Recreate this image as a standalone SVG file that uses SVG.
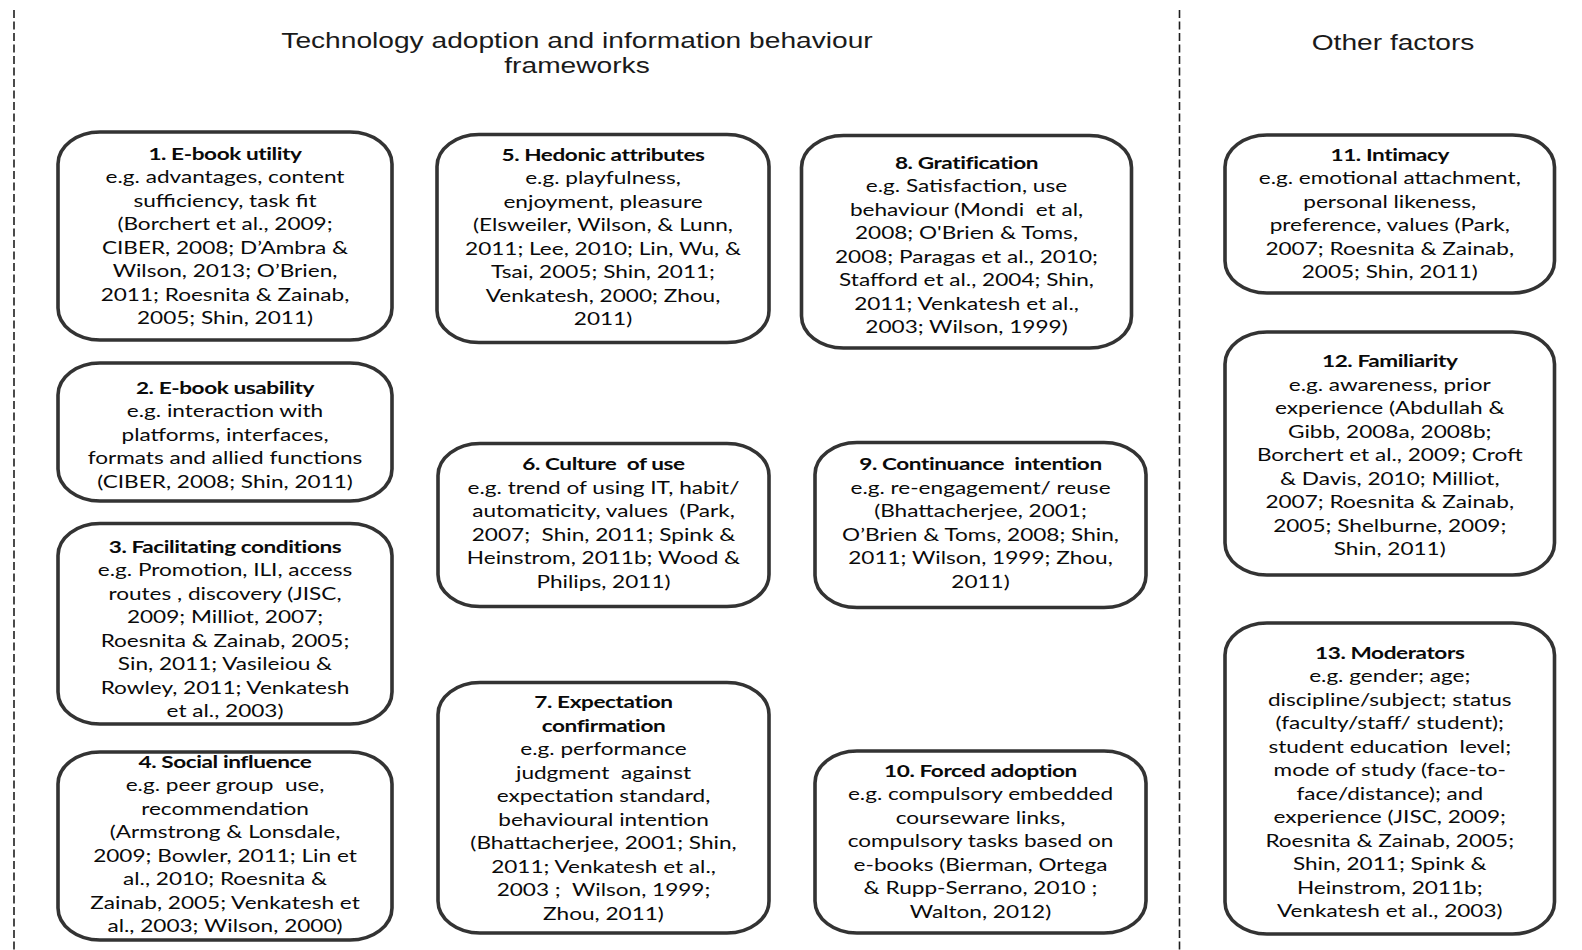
<svg xmlns="http://www.w3.org/2000/svg" width="1582" height="950" viewBox="0 0 1582 950">
  <style>
    .bg { fill: #ffffff; }
    .divider { stroke: #1e1e1e; stroke-width: 1.6; stroke-dasharray: 8 3.5; fill: none; }
    .box { fill: #ffffff; stroke: #333333; stroke-width: 3.6; }
    .head { font-family: "Liberation Sans", Arial, sans-serif; font-size: 22px; fill: #1a1a1a; text-anchor: middle; }
    .t { font-family: Lato, "Liberation Sans", sans-serif; font-size: 16.5px; fill: #0a0a0a; text-anchor: middle; white-space: pre; }
    .b { font-weight: 700; letter-spacing: -0.3px; }
  </style>

  <rect class="bg" x="0" y="0" width="1582" height="950"/>

  <!-- column dividers -->
  <g id="connectors">
    <line class="divider" x1="14" y1="10" x2="14" y2="950"/>
    <line class="divider" x1="1179.5" y1="10" x2="1179.5" y2="950"/>
  </g>

  <!-- column headings -->
  <g id="headings">
    <g transform="translate(577 0) scale(1.28 1)">
      <text class="head" x="0" y="48.5">Technology adoption and information behaviour</text>
      <text class="head" x="0" y="73.5">frameworks</text>
    </g>
    <g transform="translate(1393 0) scale(1.28 1)">
      <text class="head" x="0" y="50">Other factors</text>
    </g>
  </g>

  <!-- 1 -->
  <g id="n1">
    <rect class="box" x="58" y="132" width="334" height="208" rx="42" ry="32"/>
    <g transform="translate(225 0) scale(1.37 1)">
      <text class="t b" x="0" y="160">1. E-book utility</text>
      <text class="t" x="0" y="183.5">e.g. advantages, content</text>
      <text class="t" x="0" y="207">sufficiency, task fit</text>
      <text class="t" x="0" y="230.5">(Borchert et al., 2009;</text>
      <text class="t" x="0" y="254">CIBER, 2008; D’Ambra &amp;</text>
      <text class="t" x="0" y="277.5">Wilson, 2013; O’Brien,</text>
      <text class="t" x="0" y="301">2011; Roesnita &amp; Zainab,</text>
      <text class="t" x="0" y="324.5">2005; Shin, 2011)</text>
    </g>
  </g>

  <!-- 2 -->
  <g id="n2">
    <rect class="box" x="58" y="363" width="334" height="138" rx="42" ry="32"/>
    <g transform="translate(225 0) scale(1.37 1)">
      <text class="t b" x="0" y="394">2. E-book usability</text>
      <text class="t" x="0" y="417.5">e.g. interaction with</text>
      <text class="t" x="0" y="441">platforms, interfaces,</text>
      <text class="t" x="0" y="464.5">formats and allied functions</text>
      <text class="t" x="0" y="488">(CIBER, 2008; Shin, 2011)</text>
    </g>
  </g>

  <!-- 3 -->
  <g id="n3">
    <rect class="box" x="58" y="523.5" width="334" height="200.5" rx="42" ry="32"/>
    <g transform="translate(225 0) scale(1.37 1)">
      <text class="t b" x="0" y="553">3. Facilitating conditions</text>
      <text class="t" x="0" y="576.5">e.g. Promotion, ILI, access</text>
      <text class="t" x="0" y="600">routes , discovery (JISC,</text>
      <text class="t" x="0" y="623.5">2009; Milliot, 2007;</text>
      <text class="t" x="0" y="647">Roesnita &amp; Zainab, 2005;</text>
      <text class="t" x="0" y="670.5">Sin, 2011; Vasileiou &amp;</text>
      <text class="t" x="0" y="694">Rowley, 2011; Venkatesh</text>
      <text class="t" x="0" y="717.5">et al., 2003)</text>
    </g>
  </g>

  <!-- 4 -->
  <g id="n4">
    <rect class="box" x="58" y="752" width="334" height="188" rx="42" ry="32"/>
    <g transform="translate(225 0) scale(1.37 1)">
      <text class="t b" x="0" y="768">4. Social influence</text>
      <text class="t" x="0" y="791.5">e.g. peer group  use,</text>
      <text class="t" x="0" y="815">recommendation</text>
      <text class="t" x="0" y="838.5">(Armstrong &amp; Lonsdale,</text>
      <text class="t" x="0" y="862">2009; Bowler, 2011; Lin et</text>
      <text class="t" x="0" y="885.5">al., 2010; Roesnita &amp;</text>
      <text class="t" x="0" y="909">Zainab, 2005; Venkatesh et</text>
      <text class="t" x="0" y="932.5">al., 2003; Wilson, 2000)</text>
    </g>
  </g>

  <!-- 5 -->
  <g id="n5">
    <rect class="box" x="437" y="134.5" width="332" height="208" rx="42" ry="32"/>
    <g transform="translate(603 0) scale(1.37 1)">
      <text class="t b" x="0" y="161">5. Hedonic attributes</text>
      <text class="t" x="0" y="184.5">e.g. playfulness,</text>
      <text class="t" x="0" y="208">enjoyment, pleasure</text>
      <text class="t" x="0" y="231.5">(Elsweiler, Wilson, &amp; Lunn,</text>
      <text class="t" x="0" y="255">2011; Lee, 2010; Lin, Wu, &amp;</text>
      <text class="t" x="0" y="278.5">Tsai, 2005; Shin, 2011;</text>
      <text class="t" x="0" y="302">Venkatesh, 2000; Zhou,</text>
      <text class="t" x="0" y="325.5">2011)</text>
    </g>
  </g>

  <!-- 6 -->
  <g id="n6">
    <rect class="box" x="438" y="443.5" width="331" height="163" rx="42" ry="32"/>
    <g transform="translate(603.5 0) scale(1.37 1)">
      <text class="t b" x="0" y="470.5">6. Culture  of use</text>
      <text class="t" x="0" y="494">e.g. trend of using IT, habit/</text>
      <text class="t" x="0" y="517.5">automaticity, values  (Park,</text>
      <text class="t" x="0" y="541">2007;  Shin, 2011; Spink &amp;</text>
      <text class="t" x="0" y="564.5">Heinstrom, 2011b; Wood &amp;</text>
      <text class="t" x="0" y="588">Philips, 2011)</text>
    </g>
  </g>

  <!-- 7 -->
  <g id="n7">
    <rect class="box" x="438" y="682.5" width="331" height="250.5" rx="42" ry="32"/>
    <g transform="translate(603.5 0) scale(1.37 1)">
      <text class="t b" x="0" y="708.5">7. Expectation</text>
      <text class="t b" x="0" y="732">confirmation</text>
      <text class="t" x="0" y="755.5">e.g. performance</text>
      <text class="t" x="0" y="779">judgment  against</text>
      <text class="t" x="0" y="802.5">expectation standard,</text>
      <text class="t" x="0" y="826">behavioural intention</text>
      <text class="t" x="0" y="849.5">(Bhattacherjee, 2001; Shin,</text>
      <text class="t" x="0" y="873">2011; Venkatesh et al.,</text>
      <text class="t" x="0" y="896.5">2003 ;  Wilson, 1999;</text>
      <text class="t" x="0" y="920">Zhou, 2011)</text>
    </g>
  </g>

  <!-- 8 -->
  <g id="n8">
    <rect class="box" x="801.5" y="135.5" width="330" height="212.5" rx="42" ry="32"/>
    <g transform="translate(966.5 0) scale(1.37 1)">
      <text class="t b" x="0" y="169">8. Gratification</text>
      <text class="t" x="0" y="192.5">e.g. Satisfaction, use</text>
      <text class="t" x="0" y="216">behaviour (Mondi  et al,</text>
      <text class="t" x="0" y="239.5">2008; O'Brien &amp; Toms,</text>
      <text class="t" x="0" y="263">2008; Paragas et al., 2010;</text>
      <text class="t" x="0" y="286.5">Stafford et al., 2004; Shin,</text>
      <text class="t" x="0" y="310">2011; Venkatesh et al.,</text>
      <text class="t" x="0" y="333.5">2003; Wilson, 1999)</text>
    </g>
  </g>

  <!-- 9 -->
  <g id="n9">
    <rect class="box" x="815" y="442.5" width="331" height="165" rx="42" ry="32"/>
    <g transform="translate(980.5 0) scale(1.37 1)">
      <text class="t b" x="0" y="470.5">9. Continuance  intention</text>
      <text class="t" x="0" y="494">e.g. re-engagement/ reuse</text>
      <text class="t" x="0" y="517.5">(Bhattacherjee, 2001;</text>
      <text class="t" x="0" y="541">O’Brien &amp; Toms, 2008; Shin,</text>
      <text class="t" x="0" y="564.5">2011; Wilson, 1999; Zhou,</text>
      <text class="t" x="0" y="588">2011)</text>
    </g>
  </g>

  <!-- 10 -->
  <g id="n10">
    <rect class="box" x="815" y="751" width="331" height="182" rx="42" ry="32"/>
    <g transform="translate(980.5 0) scale(1.37 1)">
      <text class="t b" x="0" y="777">10. Forced adoption</text>
      <text class="t" x="0" y="800.5">e.g. compulsory embedded</text>
      <text class="t" x="0" y="824">courseware links,</text>
      <text class="t" x="0" y="847.5">compulsory tasks based on</text>
      <text class="t" x="0" y="871">e-books (Bierman, Ortega</text>
      <text class="t" x="0" y="894.5">&amp; Rupp-Serrano, 2010 ;</text>
      <text class="t" x="0" y="918">Walton, 2012)</text>
    </g>
  </g>

  <!-- 11 -->
  <g id="n11">
    <rect class="box" x="1225" y="135" width="329.5" height="158" rx="42" ry="32"/>
    <g transform="translate(1389.75 0) scale(1.37 1)">
      <text class="t b" x="0" y="161">11. Intimacy</text>
      <text class="t" x="0" y="184.5">e.g. emotional attachment,</text>
      <text class="t" x="0" y="208">personal likeness,</text>
      <text class="t" x="0" y="231.5">preference, values (Park,</text>
      <text class="t" x="0" y="255">2007; Roesnita &amp; Zainab,</text>
      <text class="t" x="0" y="278.5">2005; Shin, 2011)</text>
    </g>
  </g>

  <!-- 12 -->
  <g id="n12">
    <rect class="box" x="1225" y="332" width="329.5" height="243" rx="42" ry="32"/>
    <g transform="translate(1389.75 0) scale(1.37 1)">
      <text class="t b" x="0" y="367.5">12. Familiarity</text>
      <text class="t" x="0" y="391">e.g. awareness, prior</text>
      <text class="t" x="0" y="414.5">experience (Abdullah &amp;</text>
      <text class="t" x="0" y="438">Gibb, 2008a, 2008b;</text>
      <text class="t" x="0" y="461.5">Borchert et al., 2009; Croft</text>
      <text class="t" x="0" y="485">&amp; Davis, 2010; Milliot,</text>
      <text class="t" x="0" y="508.5">2007; Roesnita &amp; Zainab,</text>
      <text class="t" x="0" y="532">2005; Shelburne, 2009;</text>
      <text class="t" x="0" y="555.5">Shin, 2011)</text>
    </g>
  </g>

  <!-- 13 -->
  <g id="n13">
    <rect class="box" x="1225" y="623" width="329.5" height="311" rx="42" ry="32"/>
    <g transform="translate(1389.75 0) scale(1.37 1)">
      <text class="t b" x="0" y="659">13. Moderators</text>
      <text class="t" x="0" y="682.5">e.g. gender; age;</text>
      <text class="t" x="0" y="706">discipline/subject; status</text>
      <text class="t" x="0" y="729.5">(faculty/staff/ student);</text>
      <text class="t" x="0" y="753">student education  level;</text>
      <text class="t" x="0" y="776.5">mode of study (face-to-</text>
      <text class="t" x="0" y="800">face/distance); and</text>
      <text class="t" x="0" y="823.5">experience (JISC, 2009;</text>
      <text class="t" x="0" y="847">Roesnita &amp; Zainab, 2005;</text>
      <text class="t" x="0" y="870.5">Shin, 2011; Spink &amp;</text>
      <text class="t" x="0" y="894">Heinstrom, 2011b;</text>
      <text class="t" x="0" y="917.5">Venkatesh et al., 2003)</text>
    </g>
  </g>
</svg>
